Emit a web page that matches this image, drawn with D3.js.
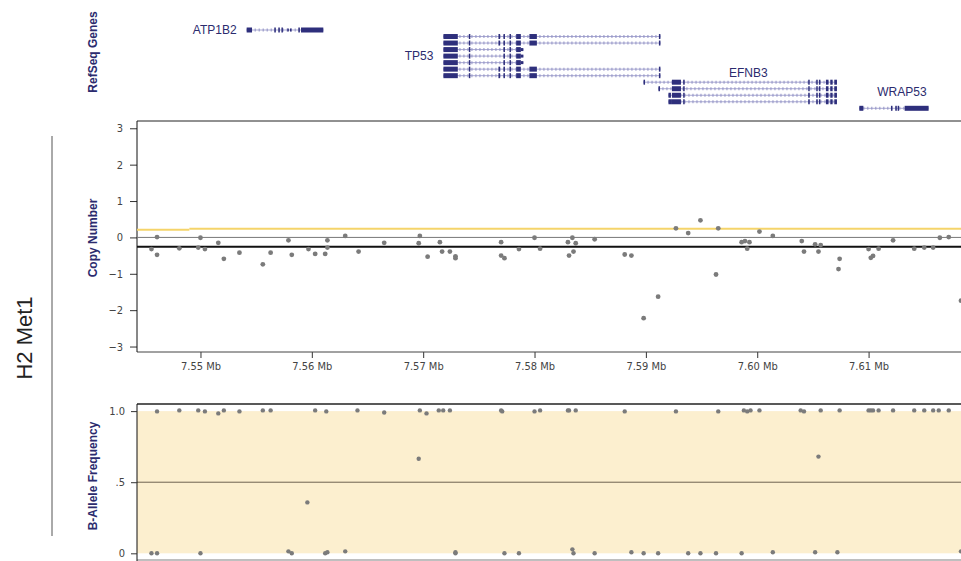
<!DOCTYPE html>
<html>
<head>
<meta charset="utf-8">
<script src="https://cdn.jsdelivr.net/npm/d3@7"></script>
<style>
  body { margin: 0; background: #fff; }
  svg { display: block; }
  .tick text { font-family: "DejaVu Sans Condensed", "DejaVu Sans", sans-serif; font-size: 11px; fill: #444; }
  .panel-label { font-family: "Liberation Sans", Arial, sans-serif; font-size: 12px; font-weight: bold; fill: #2b2b6e; }
  .gene-label { font-family: "Liberation Sans", Arial, sans-serif; font-size: 12px; fill: #2b2b6e; }
</style>
</head>
<body>
<svg id="chart" width="961" height="561"></svg>
<script>
// genomic window (Mb)
const xDomain = [7.5443, 7.6183];
const xTicks = [7.55, 7.56, 7.57, 7.58, 7.59, 7.60, 7.61];
const cnTicks = [-3, -2, -1, 0, 1, 2, 3];
const bafTicks = [0, 0.5, 1];
const bafTickLabels = ["0", ".5", "1.0"];

// copy number probes: [position Mb, log value]
const cnProbes = [
  [7.5456,-0.32],[7.5461,0.01],[7.5461,-0.48],[7.5481,-0.30],[7.5498,-0.28],[7.5500,-0.01],[7.5504,-0.32],
  [7.5516,-0.15],[7.5521,-0.59],[7.5535,-0.42],[7.5556,-0.74],[7.5563,-0.42],[7.5579,-0.08],[7.5582,-0.48],
  [7.5597,-0.32],[7.5603,-0.45],[7.5612,-0.45],[7.5614,-0.08],[7.5614,-0.28],[7.5630,0.04],[7.5642,-0.39],
  [7.5665,-0.15],[7.5697,0.04],[7.5696,-0.16],[7.5704,-0.53],[7.5715,-0.13],[7.5717,-0.39],[7.5724,-0.39],
  [7.5729,-0.52],[7.5729,-0.57],[7.5770,-0.13],[7.5770,-0.50],[7.5773,-0.57],[7.5786,-0.32],[7.5800,-0.01],
  [7.5805,-0.31],[7.5830,-0.13],[7.5834,-0.01],[7.5837,-0.16],[7.5835,-0.39],[7.5831,-0.50],[7.5854,-0.05],
  [7.5881,-0.47],[7.5887,-0.50],[7.5898,-2.22],[7.5911,-1.63],[7.5927,0.25],[7.5938,0.12],[7.5949,0.47],
  [7.5963,-1.02],[7.5965,0.25],[7.5986,-0.13],[7.5989,-0.10],[7.5991,-0.31],[7.5993,-0.13],[7.6002,0.16],
  [7.6014,0.04],[7.6040,-0.10],[7.6042,-0.39],[7.6052,-0.19],[7.6057,-0.21],[7.6055,-0.39],[7.6073,-0.87],
  [7.6074,-0.59],[7.6100,-0.32],[7.6102,-0.56],[7.6104,-0.51],[7.6109,-0.31],[7.6122,-0.08],[7.6141,-0.31],
  [7.6150,-0.28],[7.6158,-0.28],[7.6164,-0.01],[7.6172,0.01],[7.6183,-1.74]
];

// segmented copy number (yellow) : [start, end, value]
const cnSegments = [[7.5443, 7.5490, 0.21], [7.5490, 7.6183, 0.24]];
const cnBaseline = -0.26;

// B-allele frequency: [position Mb, BAF]
const bafProbes = [
  [7.5461,0.998],[7.5481,1.005],[7.5498,1.005],[7.5504,0.998],[7.5516,0.984],[7.5521,1.005],[7.5535,0.998],
  [7.5556,1.005],[7.5563,1.005],[7.5603,1.005],[7.5613,0.998],[7.5641,1.005],[7.5665,0.99],[7.5697,1.005],
  [7.5703,0.984],[7.5714,1.005],[7.5718,1.005],[7.5724,1.005],[7.5770,1.005],[7.5771,0.998],[7.5800,0.998],
  [7.5805,1.005],[7.5830,1.005],[7.5831,1.005],[7.5837,1.005],[7.5881,0.998],[7.5927,0.998],[7.5965,0.998],
  [7.5988,1.005],[7.5991,0.998],[7.5994,1.005],[7.6002,1.005],[7.6039,1.005],[7.6042,0.998],[7.6057,1.005],
  [7.6074,1.005],[7.6100,1.005],[7.6102,1.005],[7.6104,1.005],[7.6109,1.005],[7.6122,1.005],[7.6141,1.005],
  [7.6150,1.005],[7.6158,1.005],[7.6163,1.005],[7.6172,1.005],
  [7.5596,0.358],[7.5696,0.665],[7.6055,0.68],
  [7.5456,0],[7.5461,0],[7.5500,0],[7.5579,0.014],[7.5582,0],[7.5612,0],[7.5614,0.007],[7.5630,0.014],
  [7.5729,0.007],[7.5729,0],[7.5773,0],[7.5786,0],[7.5834,0.028],[7.5835,0],[7.5854,0],[7.5887,0.007],
  [7.5898,0],[7.5911,0],[7.5938,0],[7.5949,0],[7.5963,0],[7.5986,0],[7.6014,0.007],[7.6052,0.007],
  [7.6072,0.007],[7.6183,0.014]
];

// RefSeq exons: [start, end, full height 1 / half 0]
const tp53Long = [[7.57182,7.57311,1],[7.57410,7.57423,1],[7.57676,7.57691,1],[7.57721,7.57733,1],
  [7.57775,7.57787,1],[7.57835,7.57877,1],[7.57954,7.58021,1],[7.59117,7.59130,1]];
const tp53Short = [[7.57182,7.57311,1],[7.57410,7.57423,1],[7.57721,7.57733,1],[7.57775,7.57787,1],
  [7.57835,7.57877,1],[7.57877,7.57900,0]];
const efnb3Body = [[7.59234,7.59315,1],[7.59335,7.59347,1],[7.60458,7.60470,1],[7.60530,7.60542,1],
  [7.60554,7.60566,1],[7.60617,7.60640,1],[7.60656,7.60677,1],[7.60692,7.60716,1]];

const genes = [
  {name: "ATP1B2", label: "left", labelRow: 0, transcripts: [
    {row: 0, start: 7.55415, end: 7.56103, exons: [[7.55415,7.55463,1],[7.55663,7.55675,1],[7.55699,7.55712,1],
      [7.55727,7.55739,1],[7.55780,7.55790,0],[7.55804,7.55812,0],[7.55879,7.55891,1],[7.55903,7.56103,1]]}
  ]},
  {name: "TP53", label: "left", labelRow: 4, transcripts: [
    {row: 1, start: 7.57182, end: 7.59130, exons: tp53Long},
    {row: 2, start: 7.57182, end: 7.59130, exons: tp53Long},
    {row: 3, start: 7.57182, end: 7.57900, exons: tp53Short},
    {row: 4, start: 7.57182, end: 7.57900, exons: tp53Short},
    {row: 5, start: 7.57182, end: 7.57900, exons: tp53Short},
    {row: 6, start: 7.57182, end: 7.59130, exons: tp53Long},
    {row: 7, start: 7.57182, end: 7.59130, exons: tp53Long}
  ]},
  {name: "EFNB3", label: "above", labelRow: 6.5, transcripts: [
    {row: 8, start: 7.58979, end: 7.60716, exons: [[7.58979,7.58988,1]].concat(efnb3Body)},
    {row: 9, start: 7.59113, end: 7.60716, exons: [[7.59113,7.59127,1]].concat(efnb3Body)},
    {row: 10, start: 7.59203, end: 7.60716, exons: [[7.59203,7.59225,1]].concat(efnb3Body)},
    {row: 11, start: 7.59203, end: 7.60716, exons: [[7.59203,7.59234,1]].concat(efnb3Body)}
  ]},
  {name: "WRAP53", label: "above", labelRow: 9.4, transcripts: [
    {row: 12, start: 7.60917, end: 7.61539, exons: [[7.60917,7.60953,1],[7.61201,7.61213,1],[7.61240,7.61250,1],
      [7.61261,7.61271,1],[7.61324,7.61539,1]]}
  ]}
];

const svg = d3.select("#chart");
const geneColor = "#2e2f7c";

const x = d3.scaleLinear().domain(xDomain).range([137, 961]);
const yCN = d3.scaleLinear().domain([-3.15, 3.2]).range([352, 121]);
const yBAF = d3.scaleLinear().domain([-0.047, 1.05]).range([560, 404]);
const yRow = d3.scaleLinear().domain([0, 12]).range([30, 108.3]);

svg.append("defs").append("clipPath").attr("id", "plotClip")
  .append("rect").attr("x", 137).attr("y", 0).attr("width", 824).attr("height", 561);

// ---- sample label on the left
svg.append("line").attr("x1", 52).attr("x2", 52).attr("y1", 136).attr("y2", 536)
  .attr("stroke", "#555").attr("stroke-width", 1);
svg.append("text").attr("transform", "translate(32,338) rotate(-90)")
  .attr("text-anchor", "middle")
  .style("font-family", "'Liberation Sans', Arial, sans-serif").style("font-size", "22px").style("fill", "#222")
  .text("H2 Met1");

// ---- RefSeq genes track
svg.append("text").attr("class", "panel-label").attr("transform", "translate(97,52) rotate(-90)")
  .attr("text-anchor", "middle").text("RefSeq Genes");

const geneG = svg.append("g").attr("clip-path", "url(#plotClip)");
genes.forEach(function(g) {
  g.transcripts.forEach(function(t) {
    const yy = yRow(t.row);
    geneG.append("line").attr("x1", x(t.start)).attr("x2", x(t.end)).attr("y1", yy).attr("y2", yy)
      .attr("stroke", "#a9a9d2").attr("stroke-width", 1);
    geneG.append("line").attr("x1", x(t.start)).attr("x2", x(t.end)).attr("y1", yy).attr("y2", yy)
      .attr("stroke", "#9090c4").attr("stroke-width", 3).attr("stroke-dasharray", "1,3");
    geneG.selectAll(null).data(t.exons).enter().append("rect")
      .attr("x", d => x(d[0]))
      .attr("width", d => Math.max(1.5, x(d[1]) - x(d[0])))
      .attr("y", d => d[2] ? yy - 2.5 : yy - 1.5)
      .attr("height", d => d[2] ? 5 : 3)
      .attr("fill", geneColor);
  });
  const s = d3.min(g.transcripts, t => t.start), e = d3.max(g.transcripts, t => t.end);
  const lab = svg.append("text").attr("class", "gene-label").attr("dy", "0.35em").attr("y", yRow(g.labelRow)).text(g.name);
  if (g.label === "left") lab.attr("x", x(s) - 10).attr("text-anchor", "end");
  else lab.attr("x", (x(s) + x(e)) / 2 + 8).attr("text-anchor", "middle");
});

// ---- copy number panel
svg.append("text").attr("class", "panel-label").attr("transform", "translate(97,238) rotate(-90)")
  .attr("text-anchor", "middle").text("Copy Number");

svg.append("line").attr("x1", 137).attr("x2", 961).attr("y1", 121).attr("y2", 121).attr("stroke", "#222");

svg.append("g").attr("transform", "translate(137,0)")
  .call(d3.axisLeft(yCN).tickValues(cnTicks).tickSize(7).tickPadding(7).tickFormat(d3.format("d")))
  .call(g => g.select(".domain").remove())
  .call(g => g.selectAll(".tick line").attr("stroke", "#333"));

svg.append("g").attr("transform", "translate(0,352)")
  .call(d3.axisBottom(x).tickValues(xTicks).tickSize(6).tickPadding(4).tickFormat(d => d.toFixed(2) + " Mb"))
  .call(g => g.select(".domain").remove())
  .call(g => g.selectAll(".tick line").attr("stroke", "#333"));

svg.append("line").attr("x1", 137).attr("x2", 961).attr("y1", 352).attr("y2", 352).attr("stroke", "#444");
svg.append("line").attr("x1", 137).attr("x2", 137).attr("y1", 121).attr("y2", 352).attr("stroke", "#111");

const cnG = svg.append("g").attr("clip-path", "url(#plotClip)");
cnG.append("line").attr("x1", 137).attr("x2", 961).attr("y1", yCN(0)).attr("y2", yCN(0))
  .attr("stroke", "#777").attr("stroke-width", 1);
cnG.selectAll(".seg").data(cnSegments).enter().append("line").attr("class", "seg")
  .attr("x1", d => x(d[0])).attr("x2", d => x(d[1]))
  .attr("y1", d => yCN(d[2])).attr("y2", d => yCN(d[2]))
  .attr("stroke", "#f5d46a").attr("stroke-width", 2);
cnG.append("line").attr("x1", 137).attr("x2", 961).attr("y1", yCN(cnBaseline)).attr("y2", yCN(cnBaseline))
  .attr("stroke", "#111").attr("stroke-width", 2);
cnG.selectAll(".cn").data(cnProbes).enter().append("circle").attr("class", "cn")
  .attr("cx", d => x(d[0])).attr("cy", d => yCN(d[1])).attr("r", 2.4)
  .attr("fill", "#7b7b7b");

// ---- B-allele frequency panel
svg.append("text").attr("class", "panel-label").attr("transform", "translate(97,476) rotate(-90)")
  .attr("text-anchor", "middle").text("B-Allele Frequency");

svg.append("rect").attr("x", 137).attr("width", 824)
  .attr("y", yBAF(1)).attr("height", yBAF(0) - yBAF(1)).attr("fill", "#fcefcf");
svg.append("line").attr("x1", 137).attr("x2", 961).attr("y1", yBAF(0.5)).attr("y2", yBAF(0.5))
  .attr("stroke", "#6e6250").attr("stroke-width", 1);
svg.append("line").attr("x1", 137).attr("x2", 961).attr("y1", 404).attr("y2", 404).attr("stroke", "#222").attr("stroke-width", 1.5);
svg.append("line").attr("x1", 137).attr("x2", 961).attr("y1", 560).attr("y2", 560).attr("stroke", "#aaa").attr("stroke-width", 1.5);
svg.append("line").attr("x1", 137).attr("x2", 137).attr("y1", 404).attr("y2", 561).attr("stroke", "#111");

svg.append("g").attr("transform", "translate(137,0)")
  .call(d3.axisLeft(yBAF).tickValues(bafTicks).tickSize(6).tickPadding(6).tickFormat((d, i) => bafTickLabels[i]))
  .call(g => g.select(".domain").remove())
  .call(g => g.selectAll(".tick line").attr("stroke", "#333"));

svg.append("g").attr("clip-path", "url(#plotClip)")
  .selectAll(".baf").data(bafProbes).enter().append("circle").attr("class", "baf")
  .attr("cx", d => x(d[0])).attr("cy", d => yBAF(d[1])).attr("r", 2.2)
  .attr("fill", "#7b7b7b");
</script>
</body>
</html>
